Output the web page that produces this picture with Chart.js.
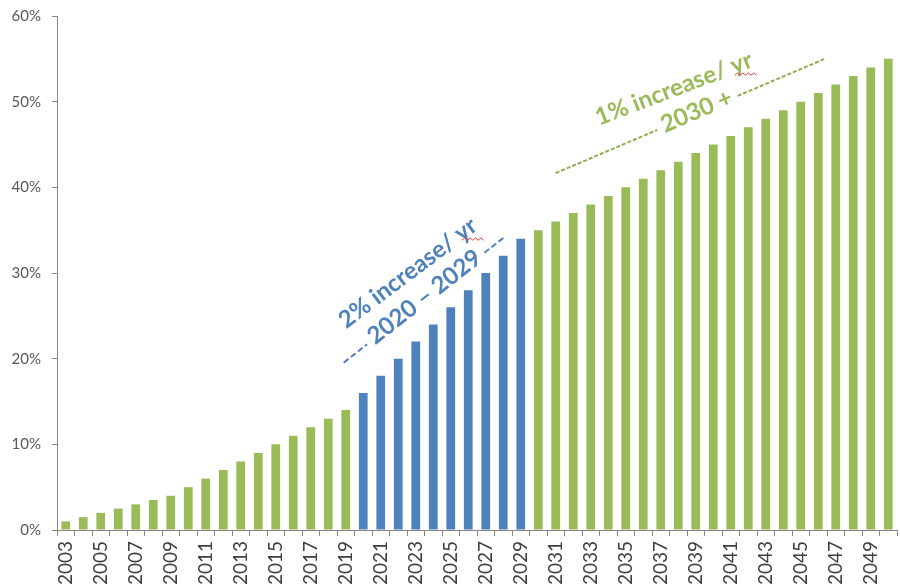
<!DOCTYPE html>
<html>
<head>
<meta charset="utf-8">
<script src="https://cdn.jsdelivr.net/npm/chart.js@4.4.0/dist/chart.umd.min.js"></script>
<style>
  html, body { margin: 0; padding: 0; background: #fff; }
  #wrap { width: 900px; height: 586px; }
</style>
</head>
<body>
<div id="wrap"><canvas id="c" width="900" height="586"></canvas></div>
<script>
// Share by year, in percent
const years = [
  '2003','2004','2005','2006','2007','2008','2009','2010','2011','2012',
  '2013','2014','2015','2016','2017','2018','2019','2020','2021','2022',
  '2023','2024','2025','2026','2027','2028','2029','2030','2031','2032',
  '2033','2034','2035','2036','2037','2038','2039','2040','2041','2042',
  '2043','2044','2045','2046','2047','2048','2049','2050'
];
const shares = [
  1, 1.5, 2, 2.5, 3, 3.5, 4, 5, 6, 7,
  8, 9, 10, 11, 12, 13, 14, 16, 18, 20,
  22, 24, 26, 28, 30, 32, 34, 35, 36, 37,
  38, 39, 40, 41, 42, 43, 44, 45, 46, 47,
  48, 49, 50, 51, 52, 53, 54, 55
];
// The 2%-per-year ramp period, drawn in blue
const rampStart = 2020;
const rampEnd = 2029;
const yTickValues = [0, 10, 20, 30, 40, 50, 60];

const GREEN = '#9BBB59';
const BLUE = '#4F81BD';
const AXIS = '#868686';
const FONT = 'Lato, "Liberation Sans", sans-serif';

const barColors = years.map(y => (+y >= rampStart && +y <= rampEnd) ? BLUE : GREEN);

// Slanted callouts, anchored in (year, percent) space
const notes = [
  { text: '2% increase/ yr', year: 2022.55, pct: 30.0, angle: 37, color: BLUE, squiggle: true },
  { text: '2020 \u2013 2029', year: 2023.5, pct: 27.2, angle: 38, color: BLUE,
    dash: { left: 104, right: 100, color: BLUE, pattern: [6, 3] } },
  { text: '1% increase/ yr', year: 2037.75, pct: 51.5, angle: 21, color: GREEN, squiggle: true },
  { text: '2030 +', year: 2039.05, pct: 48.9, angle: 23, color: GREEN,
    dash: { left: 154, right: 138, color: '#8FAE4E', pattern: [4, 2] } }
];

const calloutPlugin = {
  id: 'callouts',
  afterDatasetsDraw(chart) {
    const ctx = chart.ctx;
    const xs = chart.scales.x, ys = chart.scales.y;
    const fs = 24;
    notes.forEach(n => {
      const cx = xs.getPixelForValue(n.year - +years[0]);
      const cy = ys.getPixelForValue(n.pct);
      const a = -n.angle * Math.PI / 180;
      ctx.save();
      ctx.translate(cx, cy);
      ctx.rotate(a);
      ctx.font = `bold ${fs}px ${FONT}`;
      ctx.fillStyle = n.color;
      ctx.textAlign = 'center';
      ctx.textBaseline = 'middle';
      ctx.fillText(n.text, 0, 0);
      const w = ctx.measureText(n.text).width;
      if (n.dash) {
        ctx.strokeStyle = n.dash.color;
        ctx.lineWidth = 2;
        ctx.setLineDash(n.dash.pattern);
        ctx.beginPath();
        ctx.moveTo(-n.dash.left, 2);
        ctx.lineTo(-w / 2 - 6, 2);
        ctx.moveTo(w / 2 + 6, 2);
        ctx.lineTo(n.dash.right, 2);
        ctx.stroke();
      }
      const wYr = ctx.measureText('yr').width;
      ctx.restore();
      if (n.squiggle) {
        // spell-check style wavy underline under "yr"
        const lx = w / 2 - wYr / 2, ly = fs * 0.5;
        const px = cx + lx * Math.cos(a) - ly * Math.sin(a);
        const py = cy + lx * Math.sin(a) + ly * Math.cos(a);
        ctx.save();
        ctx.strokeStyle = '#E0393E';
        ctx.lineWidth = 1;
        ctx.beginPath();
        const half = wYr * 0.5;
        for (let i = 0; i <= 8; i++) {
          const xx = px - half + i * (2 * half / 8);
          const yy = py + (i % 2 ? -1.2 : 1.2);
          if (i === 0) ctx.moveTo(xx, yy); else ctx.lineTo(xx, yy);
        }
        ctx.stroke();
        ctx.restore();
      }
    });
  }
};

new Chart(document.getElementById('c'), {
  type: 'bar',
  data: {
    labels: years,
    datasets: [{
      data: shares,
      backgroundColor: barColors,
      borderWidth: 0,
      barPercentage: 0.5,
      categoryPercentage: 1
    }]
  },
  options: {
    responsive: false,
    animation: false,
    devicePixelRatio: 1,
    layout: { padding: { top: 16, right: 3, left: 0, bottom: 0 } },
    plugins: { legend: { display: false }, tooltip: { enabled: false } },
    scales: {
      x: {
        type: 'category',
        grid: { offset: true, drawOnChartArea: false, drawTicks: true, tickLength: 6, color: AXIS },
        border: { color: AXIS, width: 1 },
        ticks: {
          autoSkip: false, minRotation: 90, maxRotation: 90, padding: 5,
          color: '#404040', font: { family: FONT, size: 19 },
          callback: (v, i) => (+years[i] % 2 === 1 ? years[i] : '')
        },
        afterFit: s => {
          s.height = 56;
          s.paddingTop = 0; s.paddingBottom = 0; s.paddingLeft = 0; s.paddingRight = 0;
        }
      },
      y: {
        min: 0, max: 60,
        afterBuildTicks: s => { s.ticks = yTickValues.map(v => ({ value: v })); },
        ticks: {
          color: '#595959', font: { family: FONT, size: 15 }, padding: 11,
          callback: v => v + '%'
        },
        grid: { drawOnChartArea: false, drawTicks: true, tickLength: 5, color: AXIS },
        border: { color: AXIS, width: 1 },
        afterFit: s => {
          s.width = 57;
          s.paddingTop = 0; s.paddingBottom = 0; s.paddingLeft = 0; s.paddingRight = 0;
        }
      }
    }
  },
  plugins: [calloutPlugin]
});
</script>
</body>
</html>
